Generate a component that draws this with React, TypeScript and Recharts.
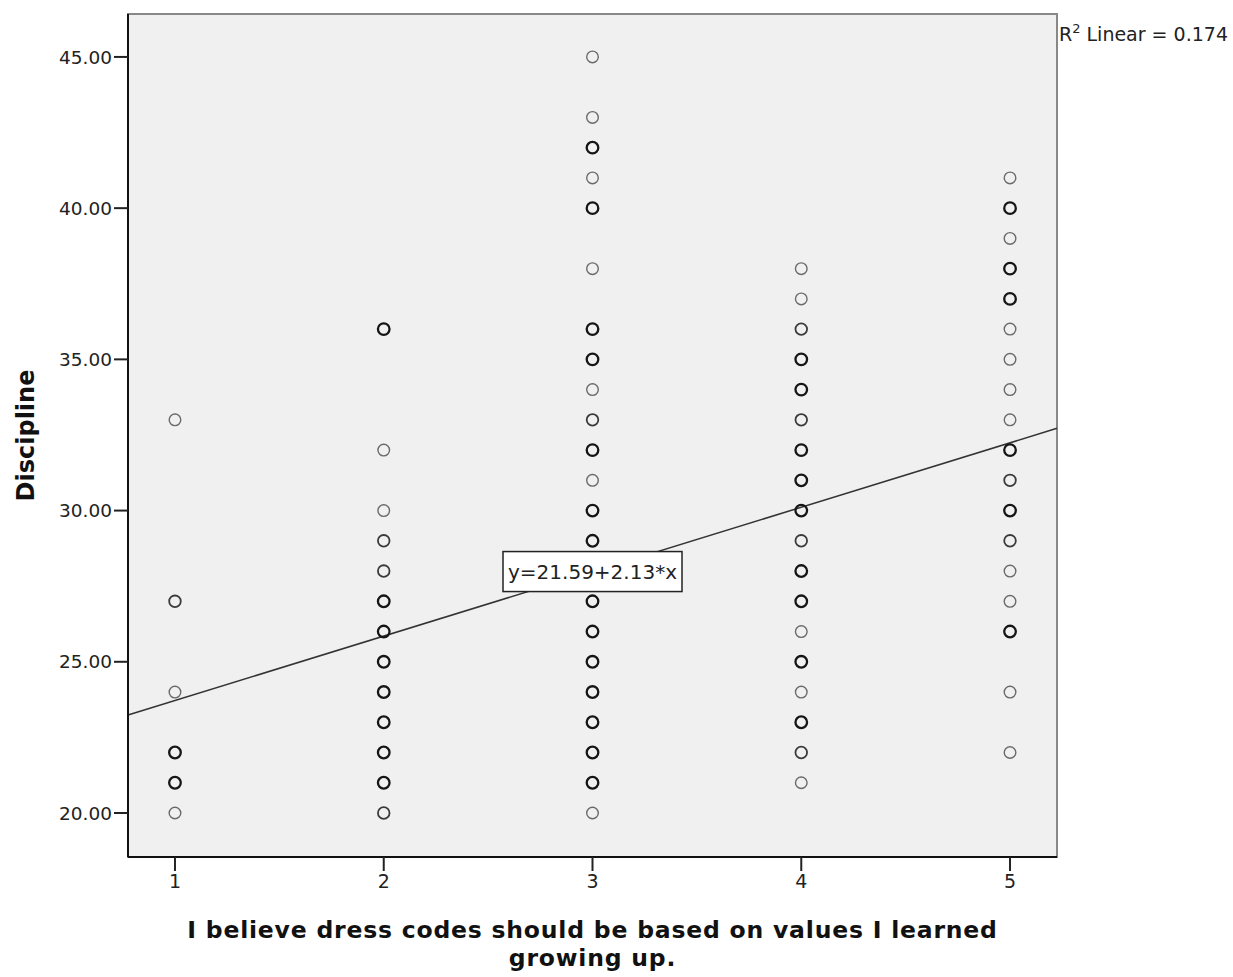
import React from "react";
import {
  ScatterChart,
  Scatter,
  XAxis,
  YAxis,
  ReferenceArea,
  ReferenceLine,
  ReferenceDot,
} from "recharts";

// Category values on the x axis
const categories = [1, 2, 3, 4, 5];

// Discipline values observed at each category, with an overlap weight
// (1 = single point, 2 = a few overlapping, 3 = many overlapping)
const valuesAt1 = [33, 27, 24, 22, 21, 20];
const weightsAt1 = [1, 2, 1, 3, 3, 1];

const valuesAt2 = [36, 32, 30, 29, 28, 27, 26, 25, 24, 23, 22, 21, 20];
const weightsAt2 = [3, 1, 1, 2, 2, 3, 3, 3, 3, 3, 3, 3, 2];

const valuesAt3 = [45, 43, 42, 41, 40, 38, 36, 35, 34, 33, 32, 31, 30, 29, 28, 27, 26, 25, 24, 23, 22, 21, 20];
const weightsAt3 = [1, 1, 3, 1, 3, 1, 3, 3, 1, 2, 3, 1, 3, 3, 2, 3, 3, 3, 3, 3, 3, 3, 1];

const valuesAt4 = [38, 37, 36, 35, 34, 33, 32, 31, 30, 29, 28, 27, 26, 25, 24, 23, 22, 21];
const weightsAt4 = [1, 1, 2, 3, 3, 2, 3, 3, 3, 2, 3, 3, 1, 3, 1, 3, 2, 1];

const valuesAt5 = [41, 40, 39, 38, 37, 36, 35, 34, 33, 32, 31, 30, 29, 28, 27, 26, 24, 22];
const weightsAt5 = [1, 3, 1, 3, 3, 1, 1, 1, 1, 3, 2, 3, 2, 1, 1, 3, 1, 1];

const yTicks = [20, 25, 30, 35, 40, 45];
const xTicks = [1, 2, 3, 4, 5];

const xDomain: [number, number] = [0.775, 5.225];
const yDomain: [number, number] = [18.545, 46.42];

const intercept = 21.59;
const slope = 2.13;
const fitLabel = "y=21.59+2.13*x";
const fitLabelAt = { x: 3, y: 28 };
const r2Text = "0.174";

const xTitleLines = ["I believe dress codes should be based on values I learned", "growing up."];
const yTitle = "Discipline";

const valueLists = [valuesAt1, valuesAt2, valuesAt3, valuesAt4, valuesAt5];
const weightLists = [weightsAt1, weightsAt2, weightsAt3, weightsAt4, weightsAt5];

const points = categories.flatMap((c, i) =>
  valueLists[i].map((v, j) => ({ x: c, y: v, w: weightLists[i][j] }))
);

const FONT = "'DejaVu Sans', Verdana, sans-serif";

const strokeFor = (w: number) =>
  w >= 3 ? { stroke: "#151515", sw: 2.3 } : w === 2 ? { stroke: "#3a3a3a", sw: 1.8 } : { stroke: "#6a6a6a", sw: 1.4 };

const PointShape = (props: any) => {
  const { cx, cy, payload } = props;
  if (cx == null || cy == null) return null;
  const s = strokeFor(payload?.w ?? 1);
  return <circle cx={cx} cy={cy} r={5.8} fill="none" stroke={s.stroke} strokeWidth={s.sw} />;
};

const FitLabelShape = (props: any) => {
  const { cx, cy } = props;
  if (cx == null || cy == null) return null;
  return (
    <g>
      <rect x={cx - 89.5} y={cy - 19.5} width={179} height={40} fill="#ffffff" stroke="#222" strokeWidth={1.5} />
      <text x={cx} y={cy + 8} textAnchor="middle" fontFamily={FONT} fontSize={20} fill="#222">
        {fitLabel}
      </text>
    </g>
  );
};

const XTitle = (props: any) => {
  const vb = props.viewBox || { x: 128, y: 857, width: 929, height: 120 };
  const cx = vb.x + vb.width / 2;
  return (
    <g>
      <text
        x={cx}
        y={vb.y + 81}
        textAnchor="middle"
        fontFamily={FONT}
        fontWeight="bold"
        fontSize={23.5}
        letterSpacing={0.8}
        fill="#111"
      >
        {xTitleLines[0]}
      </text>
      <text
        x={cx}
        y={vb.y + 108.5}
        textAnchor="middle"
        fontFamily={FONT}
        fontWeight="bold"
        fontSize={23.5}
        letterSpacing={0.8}
        fill="#111"
      >
        {xTitleLines[1]}
      </text>
    </g>
  );
};

const YTitle = (props: any) => {
  const vb = props.viewBox || { x: 0, y: 14, width: 128, height: 843 };
  const cy = vb.y + vb.height / 2;
  const cx = 34;
  return (
    <text
      x={cx}
      y={cy}
      transform={`rotate(-90, ${cx}, ${cy})`}
      textAnchor="middle"
      fontFamily={FONT}
      fontWeight="bold"
      fontSize={24}
      fill="#111"
    >
      {yTitle}
    </text>
  );
};

export default function App() {
  return (
    <div style={{ position: "absolute", left: 0, top: 0, width: 1233, height: 977, background: "#ffffff" }}>
      <ScatterChart width={1233} height={977} margin={{ top: 14, right: 176, bottom: 0, left: 0 }}>
        <XAxis
          type="number"
          dataKey="x"
          domain={xDomain}
          ticks={xTicks}
          allowDataOverflow
          height={120}
          tickSize={14}
          tickMargin={4}
          axisLine={{ stroke: "#111", strokeWidth: 2 }}
          tickLine={{ stroke: "#222", strokeWidth: 2 }}
          tick={{ fontFamily: FONT, fontSize: 19, fill: "#222" }}
          label={{ content: <XTitle /> }}
        />
        <YAxis
          type="number"
          dataKey="y"
          domain={yDomain}
          ticks={yTicks}
          allowDataOverflow
          width={128}
          tickSize={14}
          tickMargin={2}
          tickFormatter={(v: number) => v.toFixed(2)}
          axisLine={{ stroke: "#111", strokeWidth: 2 }}
          tickLine={{ stroke: "#222", strokeWidth: 2 }}
          tick={{ fontFamily: FONT, fontSize: 18.5, fill: "#222" }}
          label={{ content: <YTitle /> }}
        />
        <ReferenceArea
          x1={xDomain[0]}
          x2={xDomain[1]}
          y1={yDomain[0]}
          y2={yDomain[1]}
          fill="#f0f0f0"
          fillOpacity={1}
          stroke="#888"
          strokeWidth={2}
        />
        <Scatter data={points} shape={<PointShape />} isAnimationActive={false} />
        <ReferenceLine
          segment={[
            { x: xDomain[0], y: intercept + slope * xDomain[0] },
            { x: xDomain[1], y: intercept + slope * xDomain[1] },
          ]}
          stroke="#333"
          strokeWidth={1.5}
        />
        <ReferenceDot x={fitLabelAt.x} y={fitLabelAt.y} shape={<FitLabelShape />} />
      </ScatterChart>
      <svg
        width={233}
        height={60}
        style={{ position: "absolute", left: 1000, top: 0, pointerEvents: "none" }}
      >
        <text x={59} y={41} fontFamily={FONT} fontSize={19} fill="#222">
          R
          <tspan fontSize={13} dy={-8}>2</tspan>
          <tspan dy={8}> Linear = {r2Text}</tspan>
        </text>
      </svg>
    </div>
  );
}
